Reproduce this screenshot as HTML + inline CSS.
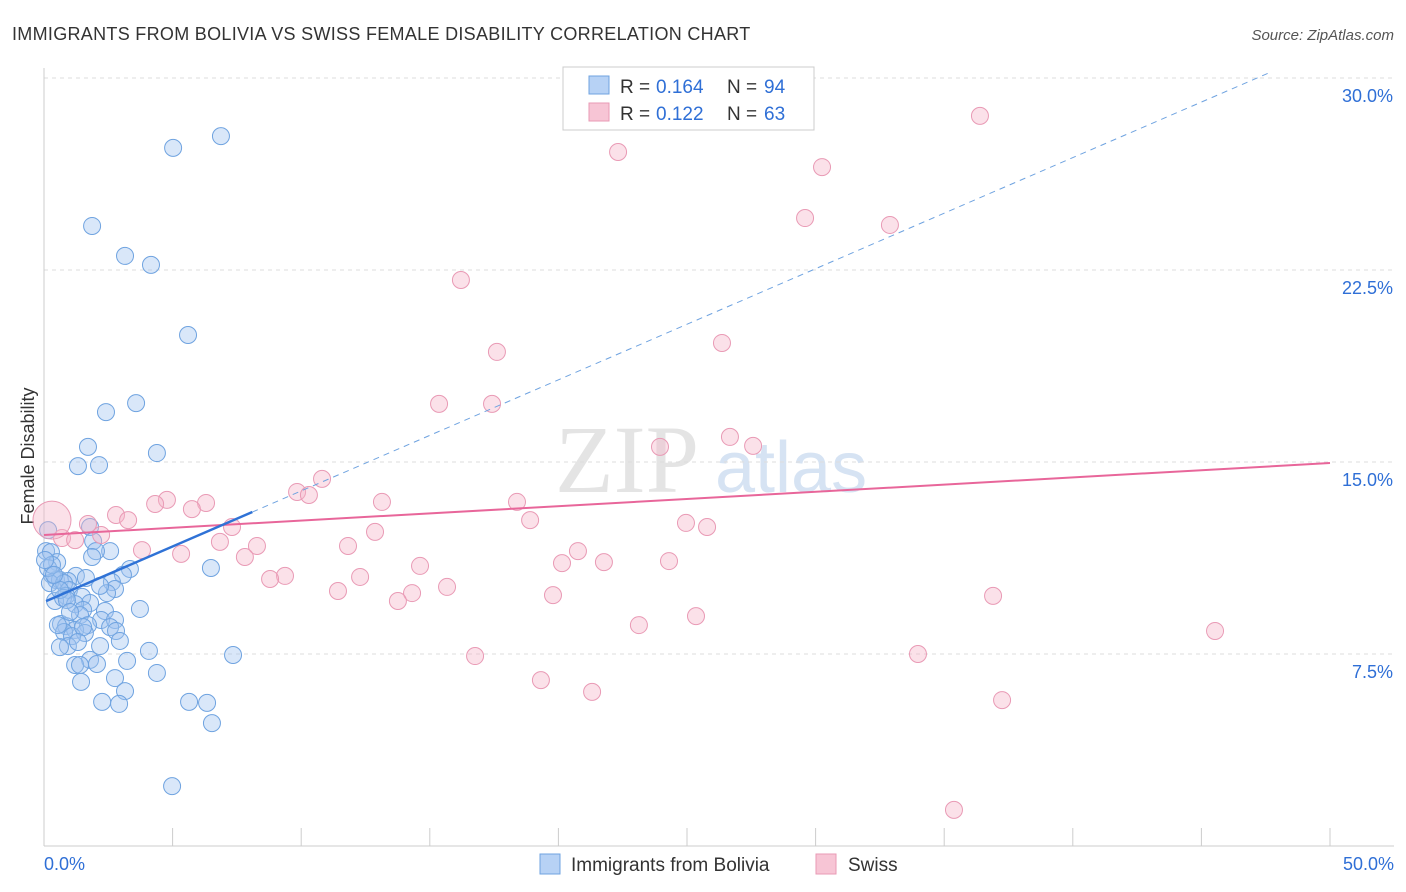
<!DOCTYPE html>
<html><head><meta charset="utf-8"><style>
body{margin:0;background:#fff;font-family:"Liberation Sans",sans-serif;}
#wrap{position:relative;width:1406px;height:892px;overflow:hidden;}
</style></head><body>
<div id="wrap">
<svg id="svg" width="1406" height="892">
<text x="12" y="40" font-size="18" fill="#333" letter-spacing="0.3">IMMIGRANTS FROM BOLIVIA VS SWISS FEMALE DISABILITY CORRELATION CHART</text>
<text x="1394" y="40" font-size="15" fill="#555" font-style="italic" text-anchor="end">Source: ZipAtlas.com</text>
<text x="34" y="456" font-size="18" fill="#333" transform="rotate(-90 34 456)" text-anchor="middle">Female Disability</text>
<text x="555" y="492" font-size="96" fill="#e4e4e4" font-family="Liberation Serif,serif">ZIP</text>
<text x="715" y="492" font-size="72" fill="#d6e3f3">atlas</text>
<g id="grid"></g><g id="marks"></g>
<g>
<rect x="563" y="67" width="251" height="63" fill="#fff" stroke="#ccc"/>
<rect x="589" y="76" width="20" height="18" fill="#b7d2f5" stroke="#6fa3e0"/>
<rect x="589" y="103" width="20" height="18" fill="#f7c5d5" stroke="#e99ab5"/>
<text x="620" y="93" font-size="19" fill="#333">R =</text><text x="656" y="93" font-size="19" fill="#2f6fd6">0.164</text>
<text x="727" y="93" font-size="19" fill="#333">N =</text><text x="764" y="93" font-size="19" fill="#2f6fd6">94</text>
<text x="620" y="120" font-size="19" fill="#333">R =</text><text x="656" y="120" font-size="19" fill="#2f6fd6">0.122</text>
<text x="727" y="120" font-size="19" fill="#333">N =</text><text x="764" y="120" font-size="19" fill="#2f6fd6">63</text>
</g>
<g>
<rect x="540" y="854" width="20" height="20" fill="#b7d2f5" stroke="#6fa3e0"/>
<text x="571" y="871" font-size="19" fill="#333">Immigrants from Bolivia</text>
<rect x="816" y="854" width="20" height="20" fill="#f7c5d5" stroke="#e99ab5"/>
<text x="848" y="871" font-size="19" fill="#333">Swiss</text>
</g>
</svg></div>
<script>
const xTicks=[0,5,10,15,20,25,30,35,40,45,50];
const yTicks=[7.5,15,22.5,30];
const yTickLabels=["7.5%","15.0%","22.5%","30.0%"];
const blueX=[6.88,5.02,1.87,3.15,4.16,5.60,3.58,2.41,1.71,4.39,1.32,2.14,1.79,0.16,1.91,2.57,2.02,0.08,0.27,1.87,0.51,3.34,3.07,0.31,1.24,1.63,0.47,0.62,0.93,2.64,0.23,0.78,2.76,2.45,0.97,0.86,1.48,0.43,0.74,1.79,1.21,3.73,2.37,1.52,1.40,2.22,2.76,0.66,0.86,1.71,2.57,1.21,0.78,1.59,2.80,1.09,2.95,2.18,0.93,0.62,4.08,7.35,1.79,3.23,2.06,1.21,1.40,4.39,2.76,1.44,3.15,2.26,2.92,5.64,6.34,6.53,4.98,6.49,0.16,0.31,0.62,0.89,1.52,0.54,1.32,2.18,1.01,0.39,0.04];
const blueY=[27.73,27.27,24.22,23.05,22.70,19.96,17.30,16.95,15.59,15.35,14.84,14.88,12.46,12.34,11.91,11.52,11.52,11.52,11.48,11.29,11.09,10.82,10.59,10.59,10.55,10.47,10.39,10.39,10.35,10.31,10.27,10.27,10.04,9.88,10.00,9.77,9.73,9.57,9.69,9.49,9.45,9.26,9.18,9.22,9.02,8.83,8.83,8.67,8.59,8.63,8.55,8.44,8.36,8.32,8.40,8.20,8.01,7.81,7.81,7.77,7.62,7.46,7.27,7.23,7.11,7.07,7.07,6.76,6.56,6.41,6.05,5.63,5.55,5.63,5.59,4.80,2.34,10.86,10.86,10.98,10.00,9.61,8.55,8.63,7.97,10.16,9.14,10.59,11.17];
const pinkX=[36.39,22.32,30.25,29.59,32.89,16.21,17.61,26.36,15.36,17.42,26.67,23.95,27.57,10.81,9.84,10.30,4.78,4.32,6.30,13.14,18.39,2.80,3.27,5.75,18.90,24.96,25.78,1.71,2.22,0.70,1.21,7.31,12.87,6.84,8.28,3.81,11.82,20.76,5.33,7.81,20.14,21.77,24.30,14.62,9.37,8.79,12.29,11.43,15.67,14.31,13.76,19.79,36.90,23.13,25.35,45.53,16.76,33.98,19.32,21.31,37.25,35.38];
const pinkY=[28.52,27.11,26.52,24.53,24.26,22.11,19.30,19.65,17.27,17.27,15.98,15.59,15.63,14.34,13.83,13.71,13.52,13.36,13.40,13.44,13.44,12.93,12.73,13.16,12.73,12.62,12.46,12.58,12.15,12.03,11.95,12.46,12.27,11.88,11.72,11.56,11.72,11.52,11.41,11.29,11.05,11.09,11.13,10.94,10.55,10.43,10.51,9.96,10.12,9.88,9.57,9.80,9.77,8.63,8.98,8.40,7.42,7.50,6.48,6.02,5.70,1.41];
const bigPink=[0.31,12.73];
const blueTrend=[9.53,0.434];
const pinkTrend=[12.15,0.0562];
const NS='http://www.w3.org/2000/svg';
const sx=v=>44+v*25.72, sy=v=>846-v*25.6;
function mk(tag,a,p){const e=document.createElementNS(NS,tag);for(const k in a)e.setAttribute(k,a[k]);p.appendChild(e);return e;}
const grid=document.getElementById('grid'),marks=document.getElementById('marks');
yTicks.forEach((t,i)=>{
 const l=mk('line',{x1:44,x2:1394,y1:sy(t),y2:sy(t),stroke:'#ddd','stroke-dasharray':'4,4'},grid);
 
 
 const tx=mk('text',{x:1393,y:sy(t)+24,'font-size':18,fill:'#2f6fd6','text-anchor':'end'},grid);tx.textContent=yTickLabels[i];
 
 
});
mk('line',{x1:44,x2:44,y1:68,y2:846,stroke:'#ccc'},grid);
mk('line',{x1:44,x2:1394,y1:846,y2:846,stroke:'#ccc'},grid);
xTicks.forEach(t=>{const l=mk('line',{x1:sx(t),x2:sx(t),y1:828,y2:846,stroke:'#ccc'},grid);
 
 });
[[0,'0.0%','start',44],[50,'50.0%','end',1394]].forEach(d=>{const tx=mk('text',{x:d[3],y:870,'font-size':18,fill:'#2f6fd6','text-anchor':d[2]},grid);tx.textContent=d[1];
 
 });
blueX.forEach((x,i)=>{const c=mk('circle',{cx:sx(x),cy:sy(blueY[i]),r:8.5,fill:'rgba(160,196,240,0.4)',stroke:'#6fa3e0','stroke-width':1},marks);
 
 });
pinkX.forEach((x,i)=>{const c=mk('circle',{cx:sx(x),cy:sy(pinkY[i]),r:8.5,fill:'rgba(244,180,200,0.4)',stroke:'#e99ab5','stroke-width':1},marks);
 
 });
const bp=mk('circle',{cx:sx(bigPink[0]),cy:sy(bigPink[1]),r:19,fill:'rgba(244,180,200,0.4)',stroke:'#e99ab5'},marks);


const bt=x=>blueTrend[0]+blueTrend[1]*x, pt=x=>pinkTrend[0]+pinkTrend[1]*x;
const pl=mk('line',{x1:sx(0),y1:sy(pt(0)),x2:sx(50),y2:sy(pt(50)),stroke:'#e8669a','stroke-width':2},marks);


const bd=mk('line',{x1:sx(8.1),y1:sy(bt(8.1)),x2:sx(47.7),y2:sy(bt(47.7)),stroke:'#6fa3e0','stroke-width':1,'stroke-dasharray':'6,5'},marks);


const bl=mk('line',{x1:sx(0.08),y1:sy(bt(0.08)),x2:sx(8.1),y2:sy(bt(8.1)),stroke:'#2f72d6','stroke-width':2.5},marks);


</script></body></html>
